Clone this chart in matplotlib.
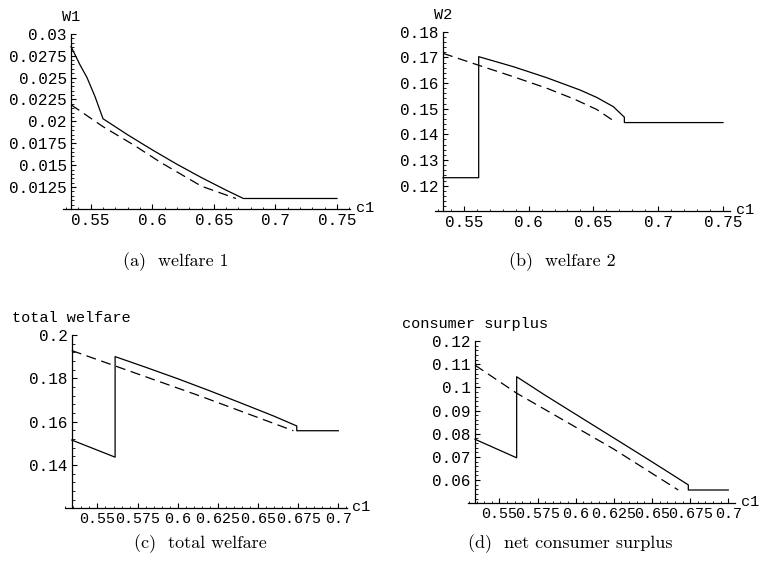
import matplotlib
matplotlib.use("Agg")
import matplotlib.pyplot as plt
from matplotlib.ticker import AutoMinorLocator, FuncFormatter, FixedLocator

# ---------------- data ----------------
# Panel (a): W1
w1_solid_c1 = [0.534, 0.5413, 0.547, 0.5535, 0.560, 0.580, 0.600, 0.620, 0.640, 0.660, 0.674, 0.750]
w1_solid = [0.02855, 0.02645, 0.0250, 0.02283, 0.0203, 0.01847, 0.01675, 0.01511, 0.01358, 0.01215,
            0.0112, 0.0112]
w1_dash_c1 = [0.534, 0.560, 0.585, 0.607, 0.640, 0.668]
w1_dash = [0.0219, 0.0194, 0.0173, 0.0153, 0.0126, 0.0112]

# Panel (b): W2
w2_solid_c1 = [0.534, 0.5615, 0.5615, 0.5882, 0.614, 0.6397, 0.6526, 0.6654, 0.6739, 0.6739, 0.750]
w2_solid = [0.1231, 0.1231, 0.1703, 0.1664, 0.1621, 0.1573, 0.1544, 0.1508, 0.1467, 0.1446, 0.1446]
w2_dash_c1 = [0.534, 0.5612, 0.587, 0.614, 0.635, 0.6526, 0.6667]
w2_dash = [0.1716, 0.1670, 0.1627, 0.1580, 0.1538, 0.1497, 0.1449]

# Panel (c): total welfare
tw_solid_c1 = [0.534, 0.561, 0.561, 0.580, 0.600, 0.620, 0.640, 0.660, 0.6741, 0.6741, 0.700]
tw_solid = [0.1515, 0.1436, 0.1900, 0.1851, 0.1798, 0.1742, 0.1684, 0.1625, 0.1580, 0.1558, 0.1558]
tw_dash_c1 = [0.534, 0.561, 0.614, 0.672]
tw_dash = [0.1928, 0.1857, 0.1718, 0.1558]

# Panel (d): consumer surplus
cs_solid_c1 = [0.534, 0.5613, 0.5613, 0.580, 0.600, 0.620, 0.640, 0.660, 0.6738, 0.6738, 0.700]
cs_solid = [0.0776, 0.0696, 0.1046, 0.0966, 0.0884, 0.0802, 0.0720, 0.0637, 0.0579, 0.0557, 0.0557]
cs_dash_c1 = [0.534, 0.5613, 0.6246, 0.6672]
cs_dash = [0.1096, 0.0975, 0.0735, 0.0557]

# tick values
xticks_ab = [0.55, 0.6, 0.65, 0.7, 0.75]
xticks_cd = [0.55, 0.575, 0.6, 0.625, 0.65, 0.675, 0.7]
yticks_a = [0.0125, 0.015, 0.0175, 0.02, 0.0225, 0.025, 0.0275, 0.03]
yticks_b = [0.12, 0.13, 0.14, 0.15, 0.16, 0.17, 0.18]
yticks_c = [0.14, 0.16, 0.18, 0.2]
yticks_d = [0.06, 0.07, 0.08, 0.09, 0.1, 0.11, 0.12]

ylabels = ["W1", "W2", "total welfare", "consumer surplus"]
xlabel = "c1"
captions = ["(a)  welfare 1", "(b)  welfare 2", "(c)  total welfare", "(d)  net consumer surplus"]

# ---------------- figure ----------------
W, H = 763, 578
fig = plt.figure(figsize=(W / 100, H / 100), dpi=100)
fig.patch.set_facecolor("white")

MONO = "Liberation Mono"
X0 = 0.534  # position of the vertical axis


def px_axes(left, right, top, bottom):
    return fig.add_axes([left / W, 1 - bottom / H, (right - left) / W, (bottom - top) / H])


def fmt(v, p):
    return "%g" % round(v, 6)


def setup(ax, xlim, ylim, xt, yt, ylab, xsize=11.5):
    ax.set_xlim(*xlim)
    ax.set_ylim(*ylim)
    ax.patch.set_alpha(0)
    for s in ("top", "right"):
        ax.spines[s].set_visible(False)
    ax.spines["left"].set_position(("data", X0))
    ax.spines["left"].set_bounds(ylim[0], yt[-1])
    ax.spines["left"].set_linewidth(0.9)
    ax.spines["bottom"].set_linewidth(0.9)
    ax.xaxis.set_major_locator(FixedLocator(xt))
    ax.yaxis.set_major_locator(FixedLocator(yt))
    ax.xaxis.set_minor_locator(AutoMinorLocator(5))
    ax.yaxis.set_minor_locator(AutoMinorLocator(5))
    ax.xaxis.set_major_formatter(FuncFormatter(fmt))
    ax.yaxis.set_major_formatter(FuncFormatter(fmt))
    ax.tick_params(which="major", direction="in", length=3.5, width=0.8, pad=3,
                   labelsize=11.5, colors="black")
    ax.tick_params(axis="x", which="major", labelsize=xsize)
    ax.tick_params(which="minor", direction="in", length=1.8, width=0.6)
    for lab in ax.get_xticklabels() + ax.get_yticklabels():
        lab.set_family(MONO)
    ax.annotate(ylab, xy=(X0, yt[-1]), xycoords="data", xytext=(0, 7),
                textcoords="offset points", ha="center", va="bottom",
                family=MONO, fontsize=11)
    ax.annotate(xlabel, xy=(xlim[1], ylim[0]), xycoords="data", xytext=(4, 1),
                textcoords="offset points", ha="left", va="center",
                family=MONO, fontsize=11)


LW = 0.9
DASH = (0, (8, 4.5))

# (a)
ax = px_axes(63, 350, 32, 209)
ax.plot(w1_solid_c1, w1_solid, color="black", lw=LW)
ax.plot(w1_dash_c1, w1_dash, color="black", lw=LW, linestyle=DASH)
setup(ax, (0.5275, 0.7606), (0.01, 0.0302), xticks_ab, yticks_a, ylabels[0])

# (b)
ax = px_axes(435, 730, 30, 211.3)
ax.plot(w2_solid_c1, w2_solid, color="black", lw=LW)
ax.plot(w2_dash_c1, w2_dash, color="black", lw=LW, linestyle=DASH)
setup(ax, (0.5278, 0.7554), (0.11, 0.1807), xticks_ab, yticks_b, ylabels[1])

# (c)
ax = px_axes(65, 346.7, 333, 508.3)
ax.plot(tw_solid_c1, tw_solid, color="black", lw=LW)
ax.plot(tw_dash_c1, tw_dash, color="black", lw=LW, linestyle=DASH)
setup(ax, (0.5298, 0.7052), (0.12, 0.2009), xticks_cd, yticks_c, ylabels[2], xsize=10.8)

# (d)
ax = px_axes(468.3, 735, 339, 503.2)
ax.plot(cs_solid_c1, cs_solid, color="black", lw=LW)
ax.plot(cs_dash_c1, cs_dash, color="black", lw=LW, linestyle=DASH)
setup(ax, (0.5296, 0.7044), (0.05, 0.1209), xticks_cd, yticks_d, ylabels[3], xsize=10.8)

# captions
cap_pos = [(176, 262), (562, 262), (200, 544), (570, 544)]
for (cx, cy), cap in zip(cap_pos, captions):
    fig.text(cx / W, 1 - cy / H, cap, ha="center", va="center",
             family="cmr10", fontsize=13)

fig.savefig("out.png", dpi=100)
